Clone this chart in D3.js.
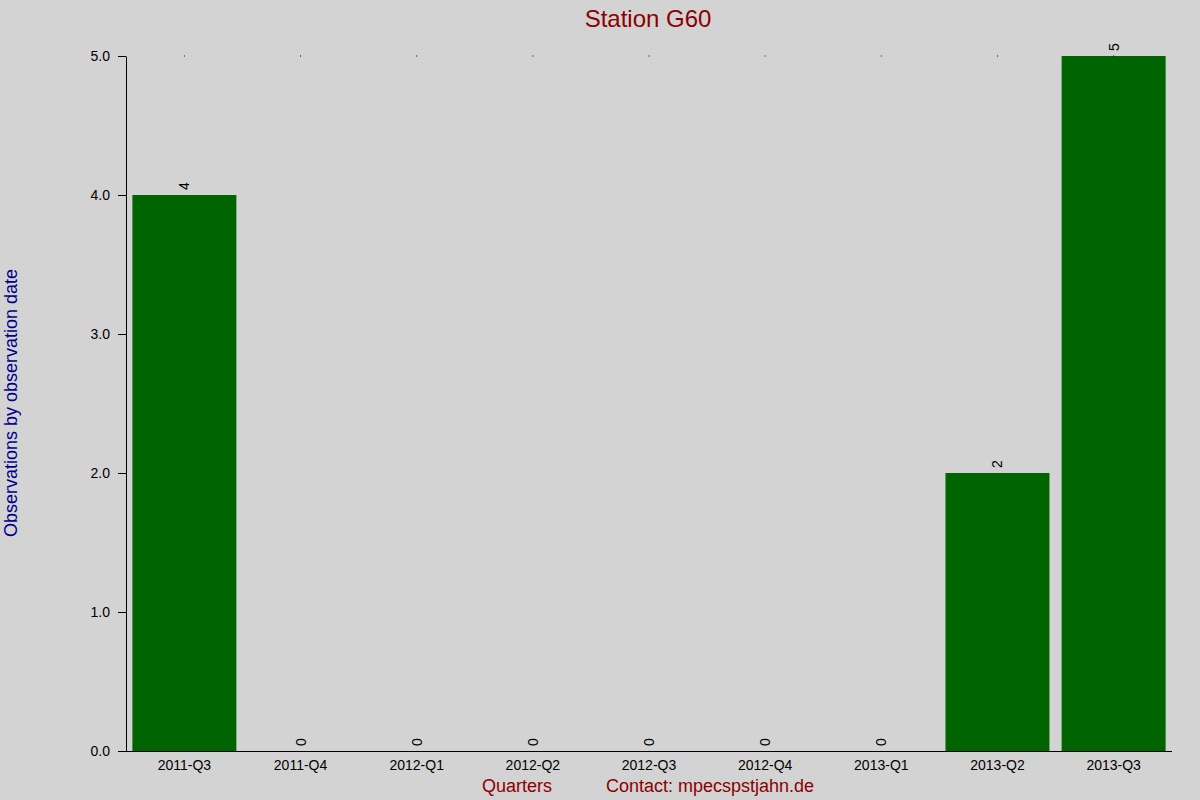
<!DOCTYPE html>
<html><head><meta charset="utf-8">
<script src="https://cdn.jsdelivr.net/npm/d3@7"></script>
<style>body{margin:0;background:#d3d3d3}svg{display:block;font-family:"Liberation Sans",Arial,sans-serif}</style>
</head><body><svg id="c" width="1200" height="800"></svg>
<script>
const categories=["2011-Q3","2011-Q4","2012-Q1","2012-Q2","2012-Q3","2012-Q4","2013-Q1","2013-Q2","2013-Q3"];
const values=[4,0,0,0,0,0,0,2,5];
const yTicks=[0,1,2,3,4,5];
const svg=d3.select("#c");
svg.append("rect").attr("width",1200).attr("height",800).attr("fill","#d3d3d3");
const L=126,R=1172,T=56,B=751;
const x=d3.scaleBand().domain(categories).range([L,R]).paddingInner(0.105).paddingOuter(0.055);
const y=d3.scaleLinear().domain([0,5]).range([B,T]);
svg.selectAll("rect.bar").data(values).join("rect").attr("class","bar")
 .attr("x",(d,i)=>x(categories[i])).attr("width",x.bandwidth())
 .attr("y",d=>y(d)).attr("height",d=>B-y(d)).attr("fill","#006400");
svg.selectAll("circle.dot").data(categories).join("rect").attr("class","dot")
 .attr("x",d=>x(d)+x.bandwidth()/2-0.5).attr("y",T-0.5).attr("width",1).attr("height",1).attr("fill","#000");
svg.selectAll("text.v").data(values).join("text").attr("class","v")
 .attr("transform",(d,i)=>`translate(${x(categories[i])+x.bandwidth()/2+5},${y(d)-5}) rotate(-90)`)
 .attr("font-size",14).attr("fill","#000").text(d=>d);
const ya=svg.append("g").attr("transform",`translate(${L},0)`).call(d3.axisLeft(y).tickValues(yTicks).tickSize(8).tickSizeOuter(0).tickPadding(8));
ya.selectAll("text").attr("font-size",14).attr("font-family","Liberation Sans, Arial, sans-serif").attr("fill","#000");
ya.select(".domain").attr("stroke","#000");
const xa=svg.append("g").attr("transform",`translate(0,${B})`).call(d3.axisBottom(x).tickSize(0).tickPadding(9));
xa.select(".domain").attr("d",`M118,0.5H${R}`).attr("stroke","#000");
xa.selectAll("text").attr("font-size",14).attr("font-family","Liberation Sans, Arial, sans-serif").attr("fill","#000");
svg.append("text").attr("x",648).attr("y",27).attr("text-anchor","middle").attr("font-size",24).attr("fill","#8b0000").text("Station G60");
svg.append("text").attr("x",517).attr("y",792).attr("text-anchor","middle").attr("font-size",18).attr("fill","#8b0000").text("Quarters");
svg.append("text").attr("x",710).attr("y",792).attr("text-anchor","middle").attr("font-size",18).attr("fill","#8b0000").text("Contact: mpecspstjahn.de");
svg.append("text").attr("transform","translate(17,403) rotate(-90)").attr("text-anchor","middle").attr("font-size",18).attr("fill","#00008b").text("Observations by observation date");
</script></body></html>
